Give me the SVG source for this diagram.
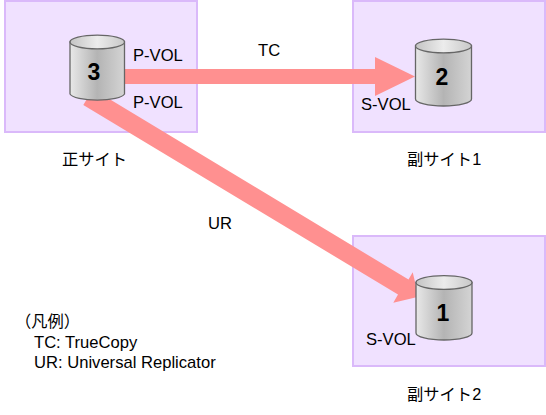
<svg xmlns="http://www.w3.org/2000/svg" width="546" height="415" viewBox="0 0 546 415">
<style>
text{font-family:"Liberation Sans","Noto Sans CJK JP",sans-serif;font-size:16.6px;fill:#000}
.cjk{font-size:16.300px}
.site{fill:#f0e1ff;stroke:#dab9fa;stroke-width:2}
.body{fill:url(#cyl);stroke:#666;stroke-width:1.300}
.num{font-size:23px;font-weight:bold;text-anchor:middle}
.arrow{fill:#ff9090;stroke:none}
</style>
<defs>
<linearGradient id="cyl" x1="0" x2="1" y1="0" y2="0">
<stop offset="0" stop-color="#e8e8e8"/><stop offset="0.5" stop-color="#b4b4b4"/><stop offset="1" stop-color="#d4d4d4"/>
</linearGradient>
<linearGradient id="lid" x1="0" x2="1" y1="0" y2="0">
<stop offset="0" stop-color="#c4c4c4"/><stop offset="0.5" stop-color="#ececec"/><stop offset="1" stop-color="#c8c8c8"/>
</linearGradient>
</defs>
<g id="site-primary"><rect class="site" x="5" y="1" width="192" height="131"/><text class="cjk" x="62" y="165">正サイト</text></g>
<g id="site-secondary-1"><rect class="site" x="353" y="1" width="192" height="131"/><text class="cjk" x="407" y="165">副サイト1</text></g>
<g id="site-secondary-2"><rect class="site" x="353" y="236" width="192" height="130"/><text class="cjk" x="407" y="400">副サイト2</text></g>
<g id="connectors">
<polygon id="tc" class="arrow" points="124,69 375,69 375,57 415,76.5 375,96 375,84 124,84"/>
<polygon id="ur" class="arrow" points="83.300,105 92.800,89.100 408.500,279.500 412.700,272.300 418.500,296.700 393.300,302.700 398,294.500"/>
</g>
<g id="vol-3"><path class="body" d="M70 42V94A27.5 7 0 0 0 124.500 94V42Z"/><ellipse cx="97.250" cy="42" rx="27.250" ry="6.800" fill="url(#lid)" stroke="#666" stroke-width="1.300"/><text class="num" x="94" y="80">3</text><text x="133" y="61">P-VOL</text><text x="133" y="107.500">P-VOL</text></g>
<g id="vol-2"><path class="body" d="M415.500 46V99A28 7 0 0 0 471.500 99V46Z"/><ellipse cx="443.500" cy="46" rx="28" ry="6.800" fill="url(#lid)" stroke="#666" stroke-width="1.300"/><text class="num" x="442" y="85">2</text><text x="361" y="110">S-VOL</text></g>
<g id="vol-1"><path class="body" d="M416 282.500V333A28 7 0 0 0 472 333V282.500Z"/><ellipse cx="444" cy="282.500" rx="28" ry="6.800" fill="url(#lid)" stroke="#666" stroke-width="1.300"/><text class="num" x="443" y="320.500">1</text><text x="366" y="345">S-VOL</text></g>
<g id="labels">
<text x="258" y="56">TC</text>
<text x="208" y="229">UR</text>
<text class="cjk" x="15" y="327">（凡例）</text>
<text x="34" y="348">TC: TrueCopy</text>
<text x="34" y="368">UR: Universal Replicator</text>
</g>
</svg>
